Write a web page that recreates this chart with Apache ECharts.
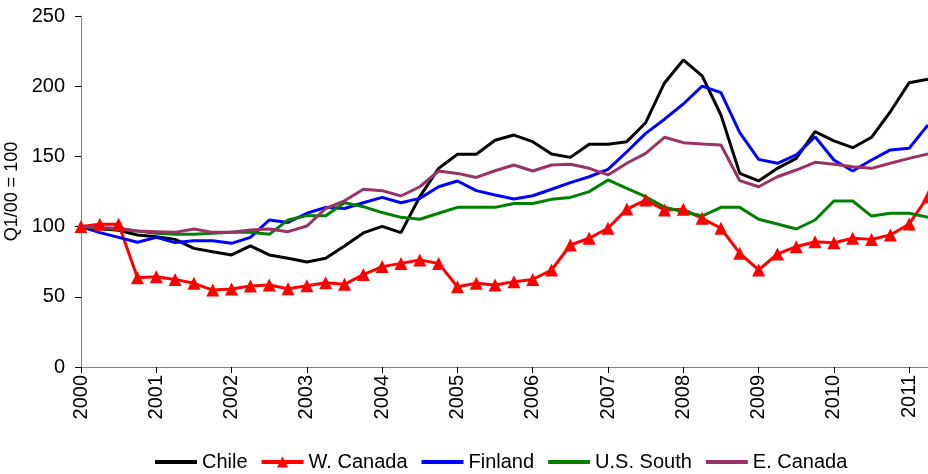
<!DOCTYPE html>
<html>
<head>
<meta charset="utf-8">
<script src="https://cdn.jsdelivr.net/npm/echarts@6/dist/echarts.min.js"></script>
<style>html,body{margin:0;padding:0;background:#fff;}#c{width:928px;height:474px;}</style>
</head>
<body>
<div id="c"></div>
<script>
const years = ['2000','2001','2002','2003','2004','2005','2006','2007','2008','2009','2010','2011'];
const quarters = [];
for (let y = 0; y < years.length; y++) for (let q = 1; q <= 4; q++) quarters.push(years[y] + 'Q' + q);
const categories = quarters.slice(0, 46);

const chile = [100,98.5,97.4,94,92.8,90.9,84.5,82.1,79.8,86.2,79.8,77.4,74.8,77.4,86.2,95.5,100.2,95.7,121.3,141.5,151.5,151.5,161.5,165.2,160.5,151.7,149.3,158.6,158.6,160.5,174,202.3,218.7,207.3,179.5,137.9,132.5,141.5,148.6,167.6,161,156.2,163.6,181.8,202.5,204.9];
const wCanada = [100,101.6,101.6,63.6,64.3,62.4,59.6,54.8,55.6,57.7,58.4,55.8,57.9,60,58.9,65.8,71.5,73.8,76.2,73.8,57.2,59.6,58.4,60.8,62.4,69.1,86.9,91.7,98.8,112.5,118.9,111.8,112.3,105.9,98.8,81,69.1,80.5,85.7,89.2,88.5,91.7,90.9,94,101.9,121.3];
const finland = [100,95.7,92.3,88.8,92.3,88.6,90,90,88.1,92.3,104.7,103,109.5,113.7,112.9,117,120.8,117,120.1,128.4,132.5,125.6,122.5,119.7,122,126.6,131.3,135.5,140.8,153.3,166.4,176.5,187.3,200.1,195.4,166.9,147.9,145.1,151,164,147.4,139.6,147.4,154.6,155.8,172.4];
const usSouth = [100,98.8,98,96.9,95.2,94.5,94.5,95.2,95.9,95.9,94.5,104.7,107.8,107.8,117,114.2,110,106.6,105.2,109.5,113.7,113.7,113.7,116.5,116.5,119.4,120.8,124.9,133.2,127.3,121.3,113.9,110.6,107.5,113.7,113.7,105.2,101.9,98.3,104.7,118.2,118.2,107.5,109.5,109.5,106.6];
const eCanada = [100,99.3,98.8,96.9,96.4,95.9,98.3,95.9,95.9,97.6,98.3,96.4,100.4,112.9,118.4,126.6,125.6,121.8,128.4,139.6,137.9,135,139.8,143.9,139.6,143.9,144.4,141.5,136.8,145.1,152.2,163.6,159.8,158.8,158.1,132.7,128.4,135.5,140.3,145.8,144.4,142.7,141.5,145.1,148.6,151.7];
const yTicks = [0,50,100,150,200,250];

const font = 'Liberation Sans, Arial, sans-serif';
function line(name, data, color, extra) {
  return Object.assign({
    name: name, type: 'line', data: data,
    symbol: 'none', lineStyle: {color: color, width: 3}, itemStyle: {color: color},
    animation: false
  }, extra || {});
}
const noSym = {itemStyle: {opacity: 0}};
const chart = echarts.init(document.getElementById('c'));
chart.setOption({
  animation: false,
  grid: {left: 81, right: 0, top: 16, bottom: 107, containLabel: false, outerBoundsMode: 'none'},
  xAxis: {
    type: 'category', data: categories, boundaryGap: false,
    axisLine: {lineStyle: {color: '#808080', width: 1}},
    axisTick: {interval: function(i){return i % 4 === 0;}, length: 6, lineStyle: {color: '#000'}},
    axisLabel: {interval: function(i){return i % 4 === 0;}, rotate: 90, margin: 8,
      formatter: function(v){return v.slice(0,4);}, color: '#000', fontSize: 20, fontFamily: font},
    splitLine: {show: false}
  },
  yAxis: {
    type: 'value', min: yTicks[0], max: yTicks[yTicks.length-1], interval: 50,
    name: 'Q1/00 = 100', nameLocation: 'middle', nameGap: 60, nameRotate: 90,
    nameTextStyle: {color: '#000', fontSize: 18, fontFamily: font},
    axisLine: {show: true, lineStyle: {color: '#808080', width: 1}},
    axisTick: {show: true, length: 6, lineStyle: {color: '#000'}},
    axisLabel: {color: '#000', fontSize: 20, fontFamily: font, margin: 16},
    splitLine: {show: false}
  },
  legend: {
    bottom: 2, left: 153, padding: 0, itemWidth: 42, itemHeight: 14, itemGap: 12,
    textStyle: {color: '#000', fontSize: 20, fontFamily: font},
    lineStyle: {width: 4},
    data: [
      Object.assign({name: 'Chile'}, noSym),
      {name: 'W. Canada'},
      Object.assign({name: 'Finland'}, noSym),
      Object.assign({name: 'U.S. South'}, noSym),
      Object.assign({name: 'E. Canada'}, noSym)
    ]
  },
  series: [
    line('Chile', chile, '#000000'),
    line('W. Canada', wCanada, '#ff0000', {symbol: 'triangle', symbolSize: 13, showSymbol: true, showAllSymbol: true}),
    line('Finland', finland, '#0000ff'),
    line('U.S. South', usSouth, '#008000'),
    line('E. Canada', eCanada, '#993366')
  ]
});
</script>
</body>
</html>
